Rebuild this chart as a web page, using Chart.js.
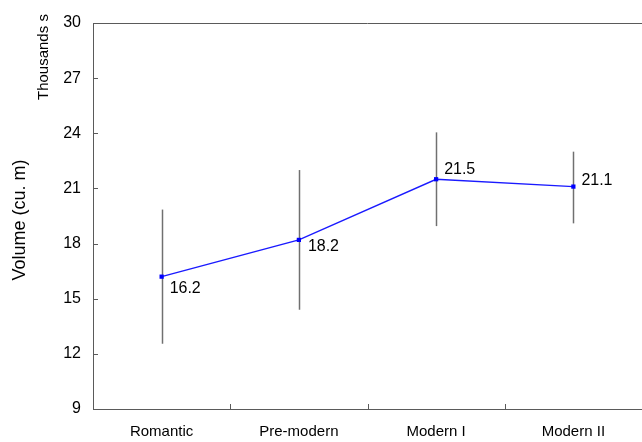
<!DOCTYPE html>
<html>
<head>
<meta charset="utf-8">
<script src="https://cdn.jsdelivr.net/npm/chart.js@4/dist/chart.umd.min.js"></script>
<style>
  html, body { margin: 0; padding: 0; background: #fff; overflow: hidden; }
  #wrap { position: relative; width: 646px; height: 442px; }
</style>
</head>
<body>
<div id="wrap"><canvas id="chart" width="646" height="442"></canvas></div>
<script>
// Period categories and mean volume (thousands of cubic metres)
const categories = ['Romantic', 'Pre-modern', 'Modern I', 'Modern II'];
const meanVolume = [16.2, 18.2, 21.5, 21.1];
// Error bar extents (lower / upper) for each period
const errLower = [12.55, 14.4, 18.95, 19.1];
const errUpper = [19.85, 22.0, 24.05, 23.0];
// Value axis ticks
const yTicks = [9, 12, 15, 18, 21, 24, 27, 30];

const FONT = 'Liberation Sans, Arial, Helvetica, sans-serif';
const AXIS_COLOR = '#5a5a5a';

// Label placement next to each point: [dx to left edge, dy to text middle]
const labelPlacement = [[8, 12], [9, 7], [8, -10], [8, -6]];

const decorations = {
  id: 'decorations',
  beforeDatasetsDraw(chart) {
    const { ctx, scales } = chart;
    const x = scales.x, y = scales.y;
    ctx.save();
    // error bars
    ctx.strokeStyle = '#707070';
    ctx.lineWidth = 1.5;
    categories.forEach((c, i) => {
      const px = Math.round(x.getPixelForValue(i)) + 0.5;
      ctx.beginPath();
      ctx.moveTo(px, y.getPixelForValue(errLower[i]));
      ctx.lineTo(px, y.getPixelForValue(errUpper[i]));
      ctx.stroke();
    });
    ctx.restore();
  },
  afterDraw(chart) {
    const { ctx, chartArea, scales } = chart;
    const x = scales.x, y = scales.y;
    ctx.save();
    ctx.strokeStyle = AXIS_COLOR;
    ctx.lineWidth = 1;
    // top frame line
    ctx.beginPath();
    ctx.moveTo(chartArea.left, chartArea.top + 0.5);
    ctx.lineTo(chartArea.right, chartArea.top + 0.5);
    ctx.stroke();
    // inward y tick marks
    yTicks.forEach(v => {
      const py = Math.round(y.getPixelForValue(v)) + 0.5;
      ctx.beginPath();
      ctx.moveTo(chartArea.left, py);
      ctx.lineTo(chartArea.left + 5, py);
      ctx.stroke();
    });
    // inward x tick marks at category boundaries
    for (let i = 0; i < categories.length - 1; i++) {
      const px = Math.round((x.getPixelForValue(i) + x.getPixelForValue(i + 1)) / 2) + 0.5;
      ctx.beginPath();
      ctx.moveTo(px, chartArea.bottom);
      ctx.lineTo(px, chartArea.bottom - 5);
      ctx.stroke();
    }
    // value labels
    ctx.fillStyle = '#000';
    ctx.font = '16px ' + FONT;
    ctx.textAlign = 'left';
    ctx.textBaseline = 'middle';
    meanVolume.forEach((v, i) => {
      const [dx, dy] = labelPlacement[i];
      ctx.fillText(v.toFixed(1), x.getPixelForValue(i) + dx, y.getPixelForValue(v) + dy);
    });
    // axis titles
    ctx.save();
    ctx.translate(20, 220);
    ctx.rotate(-Math.PI / 2);
    ctx.textAlign = 'center';
    ctx.font = '18px ' + FONT;
    ctx.fillText('Volume (cu. m)', 0, 0);
    ctx.restore();
    ctx.save();
    ctx.translate(44, 100);
    ctx.rotate(-Math.PI / 2);
    ctx.textAlign = 'left';
    ctx.font = '15px ' + FONT;
    ctx.fillText('Thousands s', 0, 0);
    ctx.restore();
    ctx.restore();
  }
};

new Chart(document.getElementById('chart'), {
  type: 'line',
  data: {
    labels: categories,
    datasets: [{
      data: meanVolume,
      borderColor: '#1a1aff',
      borderWidth: 1.4,
      backgroundColor: '#0000ff',
      pointStyle: 'rect',
      pointRadius: 3,
      pointBorderWidth: 0,
      pointBackgroundColor: '#0000ff',
      tension: 0,
      fill: false
    }]
  },
  options: {
    responsive: false,
    animation: false,
    devicePixelRatio: 1,
    layout: { padding: { left: 0, top: 23, right: 1, bottom: 0 } },
    plugins: { legend: { display: false }, tooltip: { enabled: false } },
    scales: {
      x: {
        type: 'category',
        offset: true,
        grid: { display: false, drawTicks: false },
        border: { display: true, color: AXIS_COLOR, width: 1 },
        ticks: { color: '#000', font: { family: FONT, size: 15 }, padding: 14, maxRotation: 0 },
        afterFit(scale) { scale.height = 33; }
      },
      y: {
        min: 9, max: 30,
        grid: { display: false, drawTicks: false },
        border: { display: true, color: AXIS_COLOR, width: 1 },
        afterBuildTicks(scale) { scale.ticks = yTicks.map(v => ({ value: v })); },
        ticks: { color: '#000', font: { family: FONT, size: 16 }, padding: 12 },
        afterFit(scale) { scale.width = 93; }
      }
    }
  },
  plugins: [decorations]
});
</script>
</body>
</html>
